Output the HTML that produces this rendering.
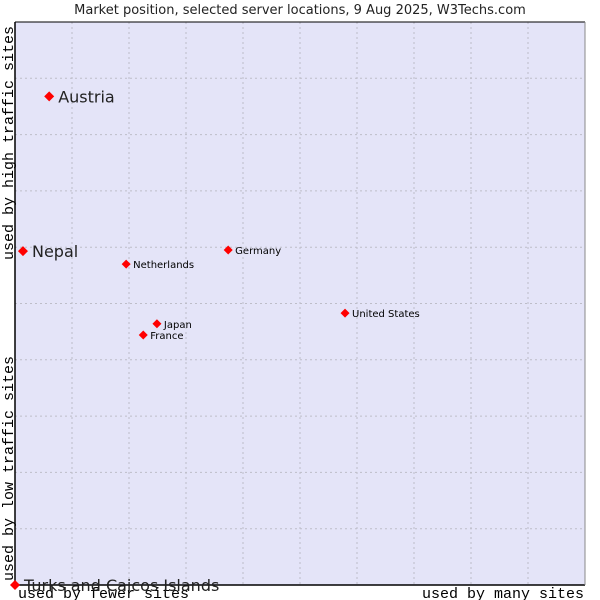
<!DOCTYPE html>
<html><head><meta charset="utf-8"><style>
body{margin:0;background:#fff;}
svg{display:block;}
</style></head><body>
<svg id="chart" width="600" height="600" xmlns="http://www.w3.org/2000/svg">
<text x="300" y="14" text-anchor="middle" font-family="DejaVu Sans, sans-serif" font-size="13" fill="#222">Market position, selected server locations, 9 Aug 2025, W3Techs.com</text>
<rect x="15" y="22" width="570" height="563" fill="#e4e4f8"/>
<g id="grid"></g>
<path d="M15 22 V585 H585" fill="none" stroke="#000" stroke-width="1.5"/>
<line x1="15" y1="22" x2="585" y2="22" stroke="#000" stroke-width="1"/>
<line x1="585" y1="22" x2="585" y2="585" stroke="#888" stroke-width="1"/>
<text x="18" y="598" font-family="Liberation Mono, monospace" font-size="15">used by fewer sites</text>
<text x="584" y="598" text-anchor="end" font-family="Liberation Mono, monospace" font-size="15">used by many sites</text>
<text transform="translate(13,581) rotate(-90)" font-family="Liberation Mono, monospace" font-size="15">used by low traffic sites</text>
<text transform="translate(13,260) rotate(-90)" font-family="Liberation Mono, monospace" font-size="15">used by high traffic sites</text>
<g id="points"></g>
</svg>
<script>
const countries = ["Austria","Nepal","Netherlands","Germany","United States","Japan","France","Turks and Caicos Islands"];
const usageX = [6.0,1.4,19.5,37.4,57.9,24.9,22.5,0];
const trafficY = [86.8,59.3,57.0,59.5,48.3,46.4,44.4,0];
const bigLabel = [true,true,false,false,false,false,false,true];
const NS="http://www.w3.org/2000/svg";
const L=15,R=585,T=22,B=585;
const xs=v=>L+(R-L)*v/100, ys=v=>B-(B-T)*v/100;
const grid=document.getElementById('grid');
for(let i=1;i<10;i++){
  const v=document.createElementNS(NS,'line');
  
  
  v.setAttribute('x1',xs(i*10));v.setAttribute('x2',xs(i*10));v.setAttribute('y1',T);v.setAttribute('y2',B);
  v.setAttribute('stroke','#bdbdc8');v.setAttribute('stroke-dasharray','2,3');grid.appendChild(v);
  const h=document.createElementNS(NS,'line');
  
  
  h.setAttribute('y1',ys(i*10));h.setAttribute('y2',ys(i*10));h.setAttribute('x1',L);h.setAttribute('x2',R);
  h.setAttribute('stroke','#bdbdc8');h.setAttribute('stroke-dasharray','2,3');grid.appendChild(h);
}
const pts=document.getElementById('points');
countries.forEach((c,i)=>{
  const x=xs(usageX[i]),y=ys(trafficY[i]);
  const d=document.createElementNS(NS,'path');
  
  
  const r=bigLabel[i]?5:4.5;
  d.setAttribute('d',`M${x} ${y-r}L${x+r} ${y}L${x} ${y+r}L${x-r} ${y}Z`);
  d.setAttribute('fill','#f00');pts.appendChild(d);
  const t=document.createElementNS(NS,'text');
  
  
  t.setAttribute('x',x+(bigLabel[i]?9:7));t.setAttribute('y',y+(bigLabel[i]?6:4));
  t.setAttribute('font-family','DejaVu Sans, sans-serif');
  t.setAttribute('font-size',bigLabel[i]?'16':'10');
  t.setAttribute('fill',bigLabel[i]?'#222':'#000');
  t.textContent=c;pts.appendChild(t);
});
</script>
</body></html>
